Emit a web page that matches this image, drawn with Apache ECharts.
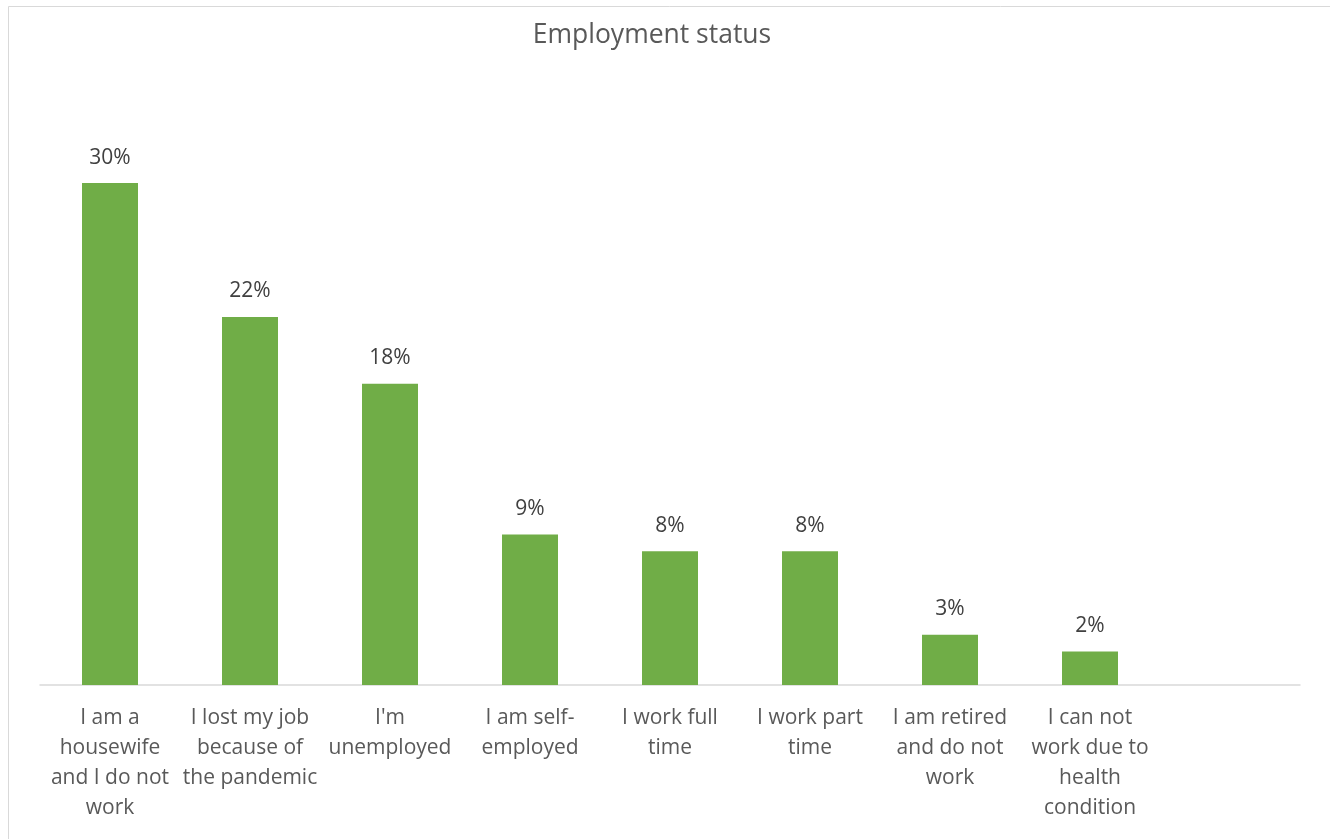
<!DOCTYPE html>
<html>
<head>
<meta charset="utf-8">
<script src="https://cdn.jsdelivr.net/npm/echarts@6/dist/echarts.min.js"></script>
<style>
  html, body { margin: 0; padding: 0; background: #fff; }
  #main { width: 1330px; height: 839px; }
</style>
</head>
<body>
<div id="main"></div>
<script>
// categories (last slot is empty in the original)
var categories = [
	'I am a\nhousewife\nand I do not\nwork',
	'I lost my job\nbecause of\nthe pandemic',
	"I'm\nunemployed",
	'I am self-\nemployed',
	'I work full\ntime',
	'I work part\ntime',
	'I am retired\nand do not\nwork',
	'I can not\nwork due to\nhealth\ncondition',
	''
];
var shares = [30, 22, 18, 9, 8, 8, 3, 2, '-'];
var chartTitle = 'Employment status';

var myChart = echarts.init(document.getElementById('main'));
var option = {
	backgroundColor: '#fff',
	animation: false,
	title: {
		text: chartTitle,
		left: 647,
		top: 17,
		textAlign: 'center',
		textStyle: {
			color: '#595959',
			fontSize: 26.5,
			fontWeight: 400,
			fontFamily: 'Open Sans'
		}
	},
	graphic: [{
		type: 'rect',
		shape: { x: 8.5, y: 6.5, width: 1340, height: 850 },
		style: { fill: 'none', stroke: '#d9d9d9', lineWidth: 1 },
		silent: true
	}],
	grid: {
		left: 40,
		right: 30,
		top: 99.4,
		bottom: 154
	},
	xAxis: {
		type: 'category',
		data: categories,
		axisLine: { lineStyle: { color: '#d9d9d9', width: 1.5 } },
		axisTick: { show: false },
		axisLabel: {
			interval: 0,
			color: '#595959',
			fontSize: 21,
			lineHeight: 30,
			margin: 18,
			fontFamily: 'Open Sans'
		}
	},
	yAxis: {
		type: 'value',
		min: 0,
		max: 35,
		show: false,
		splitLine: { show: false }
	},
	series: [{
		type: 'bar',
		data: shares,
		barWidth: 56,
		itemStyle: { color: '#70ad47' },
		label: {
			show: true,
			position: 'top',
			distance: 15,
			formatter: '{c}%',
			color: '#404040',
			fontSize: 21,
			fontFamily: 'Open Sans'
		}
	}]
};
myChart.setOption(option);
</script>
</body>
</html>
